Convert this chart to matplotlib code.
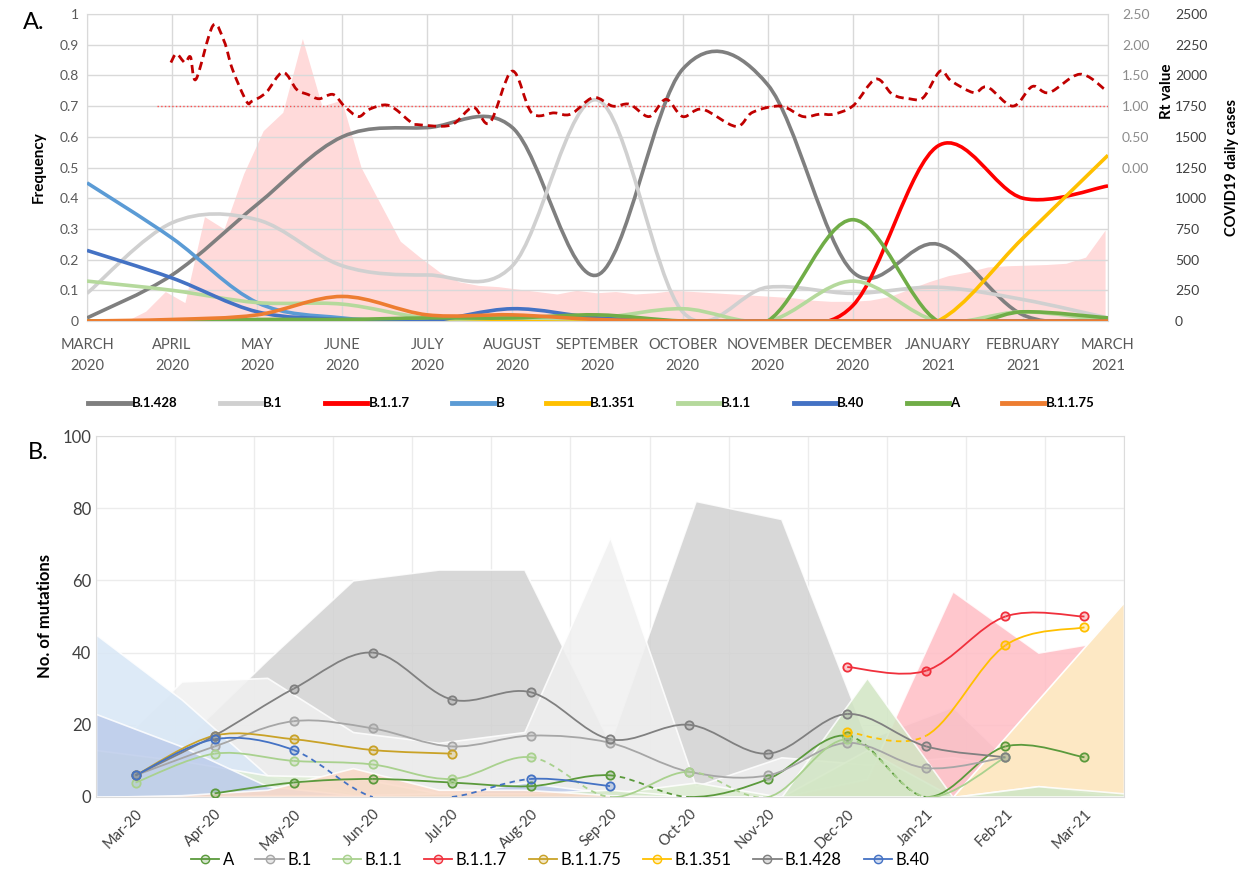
import numpy as np
import matplotlib
matplotlib.use('Agg')
from matplotlib import pyplot as plt
from matplotlib.path import Path
from matplotlib.patches import PathPatch
from matplotlib.lines import Line2D

plt.rcParams['font.family'] = ['Lato', 'DejaVu Sans']

# ---------------- data ----------------
months_a = ['MARCH\n2020', 'APRIL\n2020', 'MAY\n2020', 'JUNE\n2020', 'JULY\n2020',
            'AUGUST\n2020', 'SEPTEMBER\n2020', 'OCTOBER\n2020', 'NOVEMBER\n2020',
            'DECEMBER\n2020', 'JANUARY\n2021', 'FEBRUARY\n2021', 'MARCH\n2021']
months_b = ['Mar-20', 'Apr-20', 'May-20', 'Jun-20', 'Jul-20', 'Aug-20', 'Sep-20',
            'Oct-20', 'Nov-20', 'Dec-20', 'Jan-21', 'Feb-21', 'Mar-21']

# monthly lineage frequency (panel A lines, panel B areas x100)
freq_b1428 = [0.01, 0.15, 0.38, 0.60, 0.63, 0.63, 0.15, 0.82, 0.77, 0.16, 0.25, 0.02, 0.0]
freq_b1 = [0.09, 0.32, 0.33, 0.18, 0.15, 0.18, 0.72, 0.03, 0.11, 0.09, 0.11, 0.07, 0.01]
freq_b117 = [0, 0, 0, 0, 0, 0, 0, 0, 0, 0.05, 0.57, 0.40, 0.44]
freq_b = [0.45, 0.27, 0.06, 0.01, 0, 0, 0, 0, 0, 0, 0, 0, 0]
freq_b1351 = [0, 0, 0, 0, 0, 0, 0, 0, 0, 0, 0, 0.27, 0.54]
freq_b11 = [0.13, 0.10, 0.06, 0.055, 0.01, 0.01, 0.01, 0.04, 0.0, 0.13, 0.0, 0.03, 0.0]
freq_b40 = [0.23, 0.14, 0.03, 0.005, 0.0, 0.04, 0.01, 0, 0, 0, 0, 0, 0]
freq_a = [0, 0, 0.005, 0.005, 0.01, 0.01, 0.02, 0.0, 0.0, 0.33, 0.0, 0.03, 0.01]
freq_b1175 = [0, 0.005, 0.02, 0.08, 0.02, 0.02, 0.005, 0, 0, 0, 0, 0, 0]

# weekly COVID19 daily cases (week 0 starts 1 March 2020)
cases = [0, 0, 0, 80, 240, 150, 850, 750, 1200, 1550, 1700, 2300, 1750, 1800,
         1250, 950, 650, 520, 400, 320, 290, 280, 260, 240, 220, 250, 230, 240,
         220, 230, 250, 240, 230, 220, 210, 200, 190, 170, 160, 160, 170, 200,
         260, 320, 370, 400, 440, 450, 455, 460, 470, 520, 740]

# Rt value (day since 1 March 2020, value)
rt_days = [30, 32, 35, 37, 39, 45, 49, 52, 57, 59, 64, 70, 75, 79, 83, 88, 92, 97,
           101, 108, 116, 118, 130, 138, 144, 152, 159, 167, 173, 181, 188, 194,
           201, 207, 213, 220, 232, 238, 248, 256, 262, 267, 274, 282, 288, 294,
           299, 305, 309, 317, 322, 331, 338, 344, 355, 364]
rt_vals = [1.71, 1.85, 1.71, 1.80, 1.44, 2.31, 2.06, 1.60, 1.08, 1.08, 1.22, 1.55,
           1.27, 1.19, 1.12, 1.19, 1.0, 0.83, 0.95, 1.01, 0.73, 0.70, 0.69, 0.98,
           0.73, 1.57, 0.89, 0.89, 0.87, 1.14, 1.0, 1.03, 0.83, 1.11, 0.83, 0.95,
           0.67, 0.90, 1.0, 0.83, 0.87, 0.87, 1.01, 1.44, 1.19, 1.12, 1.14, 1.57,
           1.41, 1.22, 1.31, 1.0, 1.32, 1.22, 1.52, 1.27]

# number of mutations (panel B lines), None = no sample
mut_a = [None, 1, 4, 5, 4, 3, 6, 0, 5, 17, 0, 14, 11]
mut_b1 = [6, 14, 21, 19, 14, 17, 15, 7, 6, 15, 8, 11, None]
mut_b11 = [4, 12, 10, 9, 5, 11, 0, 7, 0, 16, 0, 11, None]
mut_b117 = [None] * 9 + [36, 35, 50, 50]
mut_b1175 = [6, 17, 16, 13, 12] + [None] * 8
mut_b1351 = [None] * 9 + [18, 17, 42, 47]
mut_b1428 = [6, 17, 30, 40, 27, 29, 16, 20, 12, 23, 14, 11, None]
mut_b40 = [6, 16, 13, 0, 0, 5, 3] + [None] * 6

# ---------------- helpers ----------------
def bezier_segs(x, y):
    # Excel-like smoothed line: one cubic bezier per segment
    n = len(x)
    segs = []
    for i in range(n - 1):
        x0, y0, x3, y3 = x[i], y[i], x[i + 1], y[i + 1]
        xp, yp = (x[i - 1], y[i - 1]) if i > 0 else (x0, y0)
        xn, yn = (x[i + 2], y[i + 2]) if i + 2 < n else (x3, y3)
        c1 = (x0 + (x3 - xp) / 6, y0 + (y3 - yp) / 6)
        c2 = (x3 - (xn - x0) / 6, y3 - (yn - y0) / 6)
        segs.append([(x0, y0), c1, c2, (x3, y3)])
    return segs


def smooth_line(ax, x, y, **kw):
    segs = bezier_segs(x, y)
    verts = [segs[0][0]]
    for s in segs:
        verts += s[1:]
    codes = [Path.MOVETO] + [Path.CURVE4] * (len(verts) - 1)
    ax.add_patch(PathPatch(Path(verts, codes), fill=False, **kw))


def mut_line(ax, vals, color, dashed=(), hidden=(), skip=()):
    idx = [i for i, v in enumerate(vals) if v is not None]
    xs = [float(i) for i in idx]
    ys = [float(vals[i]) for i in idx]
    for k, s in enumerate(bezier_segs(xs, ys)):
        i = idx[k]
        if i in skip:
            continue
        p = PathPatch(Path(s, [Path.MOVETO] + [Path.CURVE4] * 3), fill=False,
                      edgecolor=color, lw=1.3, zorder=5,
                      linestyle=(0, (3, 2.5)) if i in dashed else '-')
        ax.add_patch(p)
    mx = [i for i in idx if i not in hidden]
    ax.plot(mx, [vals[i] for i in mx], 'o', ms=6, mec=color, mew=1.3,
            mfc=matplotlib.colors.to_rgba(color, 0.25), zorder=6, ls='none')


# ---------------- figure ----------------
fig = plt.figure(figsize=(12.5, 8.88), dpi=100)

lin_names = ['B.1.428', 'B.1', 'B.1.1.7', 'B', 'B.1.351', 'B.1.1', 'B.40', 'A', 'B.1.1.75']
lin_freq = [freq_b1428, freq_b1, freq_b117, freq_b, freq_b1351, freq_b11, freq_b40, freq_a, freq_b1175]
lin_col = ['#7f7f7f', '#d0d0d0', '#ff0000', '#5b9bd5', '#ffc000', '#b5d99c', '#4472c4', '#70ad47', '#ed7d31']

# ----- panel A -----
ax = fig.add_axes([0.0696, 0.6385, 0.8168, 0.3457])
ax_cases = ax.twinx()
ax_rt = ax.twinx()
ax.set_zorder(ax_cases.get_zorder() + 1)
ax.patch.set_visible(False)
ax_rt.set_zorder(ax.get_zorder() + 1)

week_pos = np.arange(len(cases)) * 7 / 30.42
ax_cases.fill_between(week_pos, cases, color='#ffdada', lw=0)
ax_cases.set_ylim(0, 2500)
ax_cases.set_yticks(np.arange(0, 2501, 250))
ax_cases.spines['right'].set_position(('axes', 1.06))
for s in ax_cases.spines.values():
    s.set_visible(False)
ax_cases.tick_params(length=0, labelsize=10, labelcolor='#404040', pad=4)
ax_cases.set_ylabel('COVID19 daily cases', fontsize=10.5, fontweight='bold')
ax_cases.yaxis.set_label_coords(1.115, 0.5)

months_x = np.arange(13)
for name, f, c in zip(lin_names, lin_freq, lin_col):
    smooth_line(ax, months_x, f, edgecolor=c, lw=2.6, zorder=3)
ax.set_xlim(0, 12)
ax.set_ylim(0, 1)
ax.set_xticks(months_x)
ax.set_xticklabels(months_a, fontsize=10.5, color='#595959', linespacing=1.7)
ax.set_yticks(np.arange(0, 1.01, 0.1))
ax.set_yticklabels(['0'] + ['%.1f' % v for v in np.arange(0.1, 0.95, 0.1)] + ['1'],
                   fontsize=10, color='#595959')
ax.tick_params(length=0, pad=6)
ax.tick_params(axis='x', pad=12)
ax.grid(True, color='#d9d9d9', lw=1)
for s in ax.spines.values():
    s.set_color('#d9d9d9')
ax.set_ylabel('Frequency', fontsize=11, fontweight='bold')
ax.yaxis.set_label_coords(-0.04, 0.5)

rt_pos = np.array(rt_days) / 30.42
smooth_line(ax_rt, rt_pos, rt_vals, edgecolor='#c00000', lw=2, linestyle=(0, (3, 1.8)), zorder=4)
ax_rt.plot([25 / 30.42, 12], [1, 1], color='#ff5050', lw=1, ls=':')
ax_rt.set_xlim(0, 12)
ax_rt.set_ylim(-2.5, 2.5)
ax_rt.set_yticks([0, 0.5, 1, 1.5, 2, 2.5])
ax_rt.set_yticklabels(['%.2f' % v for v in [0, 0.5, 1, 1.5, 2, 2.5]])
for s in ax_rt.spines.values():
    s.set_visible(False)
ax_rt.tick_params(length=0, labelsize=10, labelcolor='#8c8c8c', pad=10)
ax_rt.set_ylabel('Rt value', fontsize=11, fontweight='bold')
ax_rt.yaxis.set_label_coords(1.051, 0.75)

fig.text(0.018, 0.975, 'A.', fontsize=17, va='center')

handles_a = [Line2D([0], [0], color=c, lw=3.5) for c in lin_col]
fig.legend(handles_a, lin_names, loc='center', bbox_to_anchor=(0.473, 0.546), ncol=9,
           frameon=False, prop={'size': 9.5, 'weight': 'bold'}, handlelength=3.2,
           handletextpad=0.1, columnspacing=3.2)

# ----- panel B -----
bx = fig.add_axes([0.0768, 0.1025, 0.8224, 0.4065])
area_x = -0.5 + np.arange(13) * 13 / 12
area_col = ['#d2d2d2', '#f0f0f0', '#ffbdc5', '#d8e7f6', '#fde8c4', '#ddecd3', '#bdcceb', '#d2e6c4', '#fad9c7']
area_alpha = [0.85, 0.85, 0.85, 0.85, 1.0, 0.85, 0.85, 0.85, 0.85]
for f, c, al in zip(lin_freq, area_col, area_alpha):
    bx.fill_between(area_x, np.array(f) * 100, color=c, alpha=al, edgecolor='white', lw=1.2, zorder=1)

line_specs = [
    (mut_a, '#5b9a3c', [6, 9], [7, 10], []),
    (mut_b1, '#a6a6a6', [], [], []),
    (mut_b11, '#a9d18e', [5, 7, 9], [6, 8, 10], []),
    (mut_b117, '#f0303c', [], [], []),
    (mut_b1175, '#c9a227', [], [], []),
    (mut_b1351, '#ffc000', [9], [10], []),
    (mut_b1428, '#808080', [], [], []),
    (mut_b40, '#4472c4', [2, 4], [3, 4], [3]),
]
names_b = ['A', 'B.1', 'B.1.1', 'B.1.1.7', 'B.1.1.75', 'B.1.351', 'B.1.428', 'B.40']
for vals, c, dsh, hid, skp in line_specs:
    mut_line(bx, vals, c, dsh, hid, skp)

bx.set_xlim(-0.5, 12.5)
bx.set_ylim(0, 100)
bx.set_xticks(np.arange(13))
bx.set_xticks(np.arange(-0.5, 13, 1), minor=True)
bx.set_xticklabels(months_b, rotation=45, ha='right', rotation_mode='anchor',
                   fontsize=10.5, color='#404040')
bx.set_yticks(np.arange(0, 101, 20))
bx.tick_params(axis='y', labelsize=12, labelcolor='#404040')
bx.tick_params(which='both', length=0)
bx.tick_params(axis='x', pad=7)
bx.grid(True, which='minor', axis='x', color='#ececec', lw=1, zorder=0)
bx.grid(True, which='major', axis='y', color='#ececec', lw=1, zorder=0)
bx.set_axisbelow(True)
for s in bx.spines.values():
    s.set_color('#dcdcdc')
bx.set_ylabel('No. of mutations', fontsize=12, fontweight='bold')
bx.yaxis.set_label_coords(-0.042, 0.5)

fig.text(0.022, 0.49, 'B.', fontsize=17, va='center')

handles_b = [Line2D([0], [0], color=c, lw=1.3, marker='o', ms=6, mec=c,
                    mfc=matplotlib.colors.to_rgba(c, 0.25)) for _, c, _, _, _ in line_specs]
fig.legend(handles_b, names_b, loc='center', bbox_to_anchor=(0.448, 0.032), ncol=8,
           frameon=False, fontsize=12, handlelength=1.7, handletextpad=0.2,
           columnspacing=1.3)

fig.savefig('out.png', dpi=100)
